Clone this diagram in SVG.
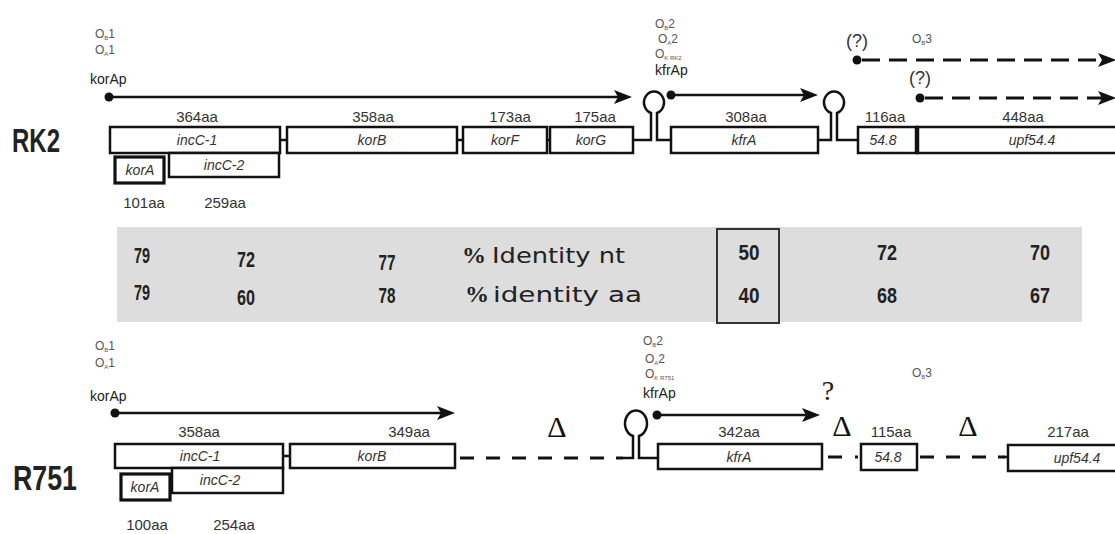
<svg xmlns="http://www.w3.org/2000/svg" width="1115" height="534" viewBox="0 0 1115 534">
<defs>
<marker id="ah" markerUnits="userSpaceOnUse" markerWidth="18" markerHeight="14" refX="10" refY="7" orient="auto"><path d="M0,0 L18,7 L0,14 L4,7 Z" fill="#111"/></marker>
</defs>
<style>
.box{fill:#fff;stroke:#111;stroke-width:2.5}
.thick{stroke-width:3.2}
.gn{font-family:"Liberation Sans",Arial,sans-serif;font-style:italic;font-size:14px;fill:#333;text-anchor:middle}
.aa{font-family:"Liberation Sans",Arial,sans-serif;font-size:15px;fill:#333;text-anchor:middle}
.op{font-family:"Liberation Sans",Arial,sans-serif;font-size:12px;fill:#555}
.sub{font-size:6px}
.pr{font-family:"Liberation Sans",Arial,sans-serif;font-size:14px;fill:#222}
.ln{fill:none;stroke:#111;stroke-width:2.5}
.arr{fill:none;stroke:#111;stroke-width:2.5;marker-end:url(#ah)}
.dash{stroke-dasharray:18 9;stroke-width:3}
.dash2{fill:none;stroke:#111;stroke-width:3;stroke-dasharray:14 12}
.dot{fill:#111}
.big{font-family:"Liberation Sans",Arial,sans-serif;font-weight:bold;fill:#222}
.num{font-family:"Liberation Sans",Arial,sans-serif;font-weight:bold;font-size:22px;fill:#222;text-anchor:middle}
.idt{font-family:"DejaVu Sans",sans-serif;font-size:22px;fill:#222}
.pct{font-family:"Liberation Serif",serif;font-weight:bold;font-size:24px;fill:#222}
.delta{font-family:"Liberation Serif",serif;font-size:30px;fill:#111;text-anchor:middle}
.q{font-family:"Liberation Sans",Arial,sans-serif;font-size:18px;fill:#333;text-anchor:middle}
.q2{font-family:"Liberation Serif",serif;font-size:28px;fill:#222;text-anchor:middle}
</style>

<!-- Identity band -->
<g id="identity-band">
<rect x="117" y="227" width="965" height="95" fill="#dddddd"/>
<rect x="717" y="229" width="62" height="94" fill="none" stroke="#333" stroke-width="2"/>
<text class="num" x="142" y="263" textLength="16" lengthAdjust="spacingAndGlyphs">79</text>
<text class="num" x="246" y="267" textLength="18" lengthAdjust="spacingAndGlyphs">72</text>
<text class="num" x="387" y="270" textLength="17" lengthAdjust="spacingAndGlyphs">77</text>
<text class="pct" x="462" y="263">%</text>
<text class="idt" x="492" y="263" textLength="133" lengthAdjust="spacingAndGlyphs">Identity nt</text>
<text class="num" x="749" y="260" textLength="21" lengthAdjust="spacingAndGlyphs">50</text>
<text class="num" x="887" y="260" textLength="20" lengthAdjust="spacingAndGlyphs">72</text>
<text class="num" x="1040" y="260" textLength="20" lengthAdjust="spacingAndGlyphs">70</text>
<text class="num" x="142" y="300" textLength="16" lengthAdjust="spacingAndGlyphs">79</text>
<text class="num" x="246" y="305" textLength="18" lengthAdjust="spacingAndGlyphs">60</text>
<text class="num" x="387" y="303" textLength="17" lengthAdjust="spacingAndGlyphs">78</text>
<text class="pct" x="465" y="302">%</text>
<text class="idt" x="493" y="302" textLength="149" lengthAdjust="spacingAndGlyphs">identity aa</text>
<text class="num" x="749" y="303" textLength="21" lengthAdjust="spacingAndGlyphs">40</text>
<text class="num" x="887" y="303" textLength="20" lengthAdjust="spacingAndGlyphs">68</text>
<text class="num" x="1040" y="303" textLength="20" lengthAdjust="spacingAndGlyphs">67</text>
</g>

<!-- Connectors -->
<g id="connectors">
<!-- RK2 -->
<circle class="dot" cx="109" cy="97" r="4.5"/>
<path class="arr" d="M109,97 H624"/>
<circle class="dot" cx="671" cy="95" r="4.5"/>
<path class="arr" d="M671,95 H810"/>
<circle class="dot" cx="857" cy="60" r="4.5"/>
<path class="arr dash" d="M862,60 H1108"/>
<circle class="dot" cx="920" cy="98" r="4.5"/>
<path class="arr dash" d="M925,98 H1108"/>
<path class="ln" d="M280,140 H287 M457,140 H463 M547,140 H550"/>
<path class="ln" d="M633,140 H651 V113 A10,11 0 1,1 657,113 V140 H671"/>
<path class="ln" d="M818,140 H831 V113 A10,11 0 1,1 837,113 V140 H858"/>
<!-- R751 -->
<circle class="dot" cx="115" cy="413" r="4.5"/>
<path class="arr" d="M115,413 H447"/>
<circle class="dot" cx="657" cy="415" r="4.5"/>
<path class="arr" d="M657,415 H812"/>
<path class="ln" d="M283,456 H290"/>
<path class="dash2" d="M460,458 H623"/>
<path class="ln" d="M623,458 H633 V436 A11,13 0 1,1 639,436 V458 H658"/>
<path class="ln" style="stroke-width:3" d="M828,457 H842 M855,457 H858"/>
<path class="dash2" d="M920,457 H1005"/>
<path class="ln" d="M1003,457 H1008"/>
</g>

<!-- RK2 labels -->
<g id="rk2-label">
<text class="big" x="12" y="152" font-size="33" textLength="48" lengthAdjust="spacingAndGlyphs">RK2</text>
</g>
<g id="rk2-korAp">
<text class="op" x="95" y="38">O<tspan class="sub" dy="2">B</tspan><tspan dy="-2">1</tspan></text>
<text class="op" x="95" y="54">O<tspan class="sub" dy="2">A</tspan><tspan dy="-2">1</tspan></text>
<text class="pr" x="90" y="84">korAp</text>
</g>
<g id="rk2-kfrAp">
<text class="op" x="655" y="28">O<tspan class="sub" dy="2">B</tspan><tspan dy="-2">2</tspan></text>
<text class="op" x="658" y="43">O<tspan class="sub" dy="2">A</tspan><tspan dy="-2">2</tspan></text>
<text class="op" x="655" y="58">O<tspan class="sub" dy="2">K RK2</tspan></text>
<text class="pr" x="655" y="75">kfrAp</text>
</g>
<g id="rk2-ob3">
<text class="q" x="857" y="47">(?)</text>
<text class="op" x="912" y="43">O<tspan class="sub" dy="2">B</tspan><tspan dy="-2">3</tspan></text>
<text class="q" x="920" y="84">(?)</text>
</g>
<g id="rk2-incC-1">
<rect class="box" x="110" y="127" width="170" height="26"/>
<text class="aa" x="197" y="122">364aa</text>
<text class="gn" x="197" y="145">incC-1</text>
</g>
<g id="rk2-korA">
<rect class="box thick" x="115" y="157" width="49" height="26"/>
<text class="gn" x="140" y="175">korA</text>
<text class="aa" x="144" y="208">101aa</text>
</g>
<g id="rk2-incC-2">
<rect class="box" x="169" y="153" width="110" height="24"/>
<text class="gn" x="224" y="170">incC-2</text>
<text class="aa" x="225" y="208">259aa</text>
</g>
<g id="rk2-korB">
<rect class="box" x="287" y="127" width="170" height="26"/>
<text class="aa" x="373" y="122">358aa</text>
<text class="gn" x="372" y="145">korB</text>
</g>
<g id="rk2-korF">
<rect class="box" x="463" y="127" width="84" height="26"/>
<text class="aa" x="510" y="122">173aa</text>
<text class="gn" x="505" y="145">korF</text>
</g>
<g id="rk2-korG">
<rect class="box" x="550" y="127" width="83" height="26"/>
<text class="aa" x="595" y="122">175aa</text>
<text class="gn" x="591" y="145">korG</text>
</g>
<g id="rk2-kfrA">
<rect class="box" x="671" y="127" width="147" height="26"/>
<text class="aa" x="746" y="122">308aa</text>
<text class="gn" x="744" y="145">kfrA</text>
</g>
<g id="rk2-54-8">
<rect class="box" x="858" y="127" width="59" height="26"/>
<text class="aa" x="885" y="122">116aa</text>
<text class="gn" x="883" y="145">54.8</text>
</g>
<g id="rk2-upf54-4">
<rect class="box" x="917" y="127" width="210" height="26"/>
<line x1="917" y1="127" x2="917" y2="153" stroke="#111" stroke-width="4.5"/>
<text class="aa" x="1023" y="122">448aa</text>
<text class="gn" x="1032" y="145">upf54.4</text>
</g>

<!-- R751 -->
<g id="r751-label">
<text class="big" x="13" y="490" font-size="35" textLength="64" lengthAdjust="spacingAndGlyphs">R751</text>
</g>
<g id="r751-korAp">
<text class="op" x="95" y="350">O<tspan class="sub" dy="2">B</tspan><tspan dy="-2">1</tspan></text>
<text class="op" x="95" y="367">O<tspan class="sub" dy="2">A</tspan><tspan dy="-2">1</tspan></text>
<text class="pr" x="90" y="401">korAp</text>
</g>
<g id="r751-kfrAp">
<text class="op" x="643" y="345">O<tspan class="sub" dy="2">B</tspan><tspan dy="-2">2</tspan></text>
<text class="op" x="645" y="363">O<tspan class="sub" dy="2">A</tspan><tspan dy="-2">2</tspan></text>
<text class="op" x="645" y="378">O<tspan class="sub" dy="2">K R751</tspan></text>
<text class="pr" x="643" y="398">kfrAp</text>
</g>
<g id="r751-marks">
<text class="q2" x="828" y="400">?</text>
<text class="op" x="912" y="377">O<tspan class="sub" dy="2">B</tspan><tspan dy="-2">3</tspan></text>
<text class="delta" x="557" y="437">Δ</text>
<text class="delta" x="842" y="436">Δ</text>
<text class="delta" x="968" y="436">Δ</text>
</g>
<g id="r751-incC-1">
<rect class="box" x="115" y="444" width="168" height="24"/>
<text class="aa" x="199" y="437">358aa</text>
<text class="gn" x="200" y="461">incC-1</text>
</g>
<g id="r751-korA">
<rect class="box thick" x="121" y="474" width="49" height="26"/>
<text class="gn" x="145" y="492">korA</text>
<text class="aa" x="147" y="530">100aa</text>
</g>
<g id="r751-incC-2">
<rect class="box" x="172" y="468" width="111" height="25"/>
<text class="gn" x="220" y="485">incC-2</text>
<text class="aa" x="234" y="530">254aa</text>
</g>
<g id="r751-korB">
<rect class="box" x="290" y="444" width="165" height="24"/>
<text class="aa" x="409" y="437">349aa</text>
<text class="gn" x="372" y="461">korB</text>
</g>
<g id="r751-kfrA">
<rect class="box" x="658" y="444" width="164" height="25"/>
<text class="aa" x="739" y="437">342aa</text>
<text class="gn" x="739" y="462">kfrA</text>
</g>
<g id="r751-54-8">
<rect class="box" x="861" y="444" width="56" height="26"/>
<text class="aa" x="891" y="437">115aa</text>
<text class="gn" x="888" y="462">54.8</text>
</g>
<g id="r751-upf54-4">
<rect class="box" x="1008" y="445" width="120" height="26"/>
<text class="aa" x="1068" y="437">217aa</text>
<text class="gn" x="1077" y="463">upf54.4</text>
</g>
</svg>
